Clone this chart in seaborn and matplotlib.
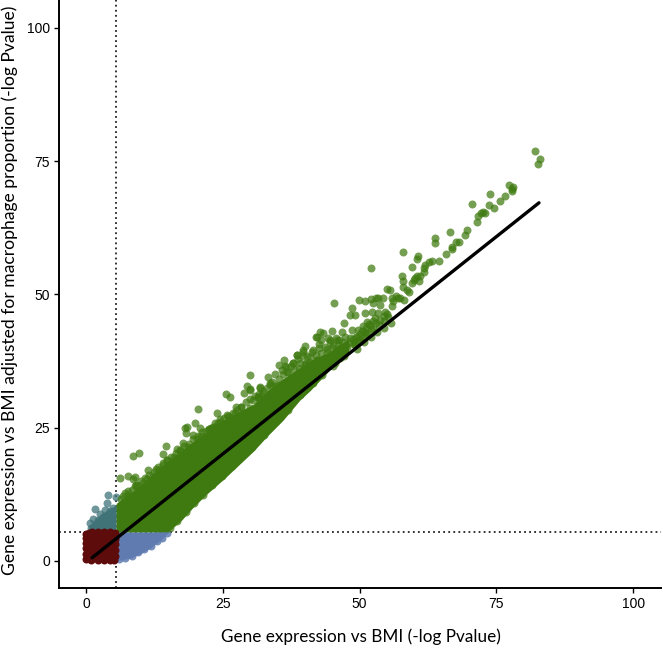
import matplotlib
matplotlib.use("Agg")
import matplotlib.pyplot as plt
import seaborn as sns
import pandas as pd

sns.set_theme(style="white")
plt.rcParams['font.family'] = ['Liberation Sans', 'DejaVu Sans']

THRESHOLD = 5.47
TICKS = [0, 25, 50, 75, 100]
X_LABEL = "Gene expression vs BMI (-log Pvalue)"
Y_LABEL = "Gene expression vs BMI adjusted for macrophage proportion (-log Pvalue)"

fit_x = [1.1, 82.8]
fit_y = [0.6, 67.2]

# dense mass outlines
green_band_x = [5.5, 8, 10.4, 13, 15, 17.5, 19.6, 22, 25, 27.5, 30.6, 33, 36, 39.1, 41, 44.6, 46, 48]
green_band_hi = [10.8, 12.7, 14.6, 17, 18.8, 20.8, 22.4, 24.2, 26.4, 27.8, 29.4, 31.8, 34.2, 36.3, 37.6, 39.3, 40.5, 41.5]
green_band_lo = [5.47, 5.47, 5.47, 5.47, 5.47, 7.7, 10.1, 12.5, 15.2, 17.6, 20.6, 23.3, 26.4, 30.2, 32, 35.9, 37, 39]
blue_band_x = [5.5, 8, 10, 11.7, 13.5, 15]
blue_band_hi = [5.47, 5.47, 5.47, 5.47, 5.47, 5.47]
blue_band_lo = [0.1, 0.5, 1.4, 2.4, 3.8, 5.3]
teal_band_x = [0.5, 1.5, 3, 5.5]
teal_band_hi = [6.6, 7.6, 9.0, 10.5]
teal_band_lo = [5.47, 5.47, 5.47, 5.47]
red_band_x = [0.1, 5.2]
red_band_hi = [5.4, 5.4]
red_band_lo = [0.1, 0.1]

green_x = [82.15, 82.9, 82.7, 77.3, 78.1, 77.8, 77.8, 73.9, 76.5, 75.6, 73.6, 70.5, 74.5, 73, 72.5, 72.2, 71.7, 71.4, 69.7, 69.2,
           66.6, 63.8, 63.8, 68.1, 67.7, 66.9, 66.9, 65.8, 64.5, 63.3, 62.7, 58, 60.7, 60.5, 61.9, 61.8, 61.7, 59.5, 57.8, 57.9,
           61.1, 60.5, 60.2, 59.9, 59.6, 60.8, 58, 58.6, 59.1, 56.7, 55.9, 57.4, 55.6,
           52.1, 55.1, 45.3, 49.9, 51, 52, 53, 54.2, 53.4, 52.5, 53.8, 56.2, 57.1, 58.1, 55.9, 48.6, 48.3, 49.2, 47.2, 51, 52.2,
           53.4, 54.7, 52.8, 51.3, 51.9, 50.7, 49.8, 51, 48.6, 42.7, 44.9, 46.7, 42.1, 42.9, 44.3, 45.7, 47.4, 48.3, 49.5, 50.1,
           48.9, 45.2, 43.7, 42.5, 40, 39.7, 38.5, 39.7, 41.3, 44, 46.1, 47.7, 36.2, 35.2, 37.9, 36.6, 39.1, 40.7, 42.2, 44.6,
           46.4, 30, 33.3, 31.8, 30, 35.2, 36.7, 37.9, 39.7, 41.6, 43.7, 45.5, 33.7, 31.5,
           29.5, 31.8, 29.96, 28.9, 25.6, 26.4, 31.5, 20.4, 27.5, 24, 25.7, 27.2, 24.5, 19.9, 18.5, 18.1, 18.3, 19.6, 22.5, 23.6,
           14.6, 17.8, 16.6, 14, 9.7, 8.5, 11.4, 12.7, 14.1, 6.2, 7.7, 8.9, 8.5, 10.5, 8.9, 7.6,
           6.4, 7.2, 9.4, 11.2, 12.2, 13.3, 14.8, 16.1, 17.2, 18.6, 20.3, 21.1, 22.9, 24.1, 26.2, 28.4, 30.6, 32.2, 34.5,
           15.4, 16.7, 18.2, 19.8, 21.3, 23.1, 24.8, 26.7, 28.6, 30.4, 32.5, 34.8, 36.9, 39.2, 41.4, 43.2, 45.1, 47.2,
           49.2, 50.3, 51.4, 52.5, 53.6, 54.4, 55.2, 49.6, 50.9, 52.1, 53.2, 54.5, 55.7]
green_y = [76.96, 75.5, 74.5, 70.6, 70.1, 69.8, 69.5, 68.8, 68.5, 67.6, 66.8, 66.9, 66.3, 65.3, 65.4, 65.2, 64.7, 63.6, 62.1, 61.1,
           61.8, 60.6, 59.7, 59.8, 59.8, 59, 58.6, 57.6, 56.3, 56.3, 56, 58, 57.3, 56.6, 55.6, 55, 54.3, 55.2, 53.4, 52.6,
           53.4, 53.4, 53.1, 52.8, 52.2, 52.6, 51.4, 50.8, 50.5, 49.8, 49.4, 49.3, 50.9,
           54.9, 51, 48.4, 49, 48.8, 49.2, 49.3, 49.3, 49.3, 48.4, 48, 48.7, 49.3, 49, 47.9, 47.4, 46.2, 46.2, 44.7, 46.5, 46.8,
           46.5, 46.7, 45.5, 44.9, 44.3, 44, 43.4, 43, 43.4, 42.9, 43.2, 43, 42, 41.5, 41.8, 41.8, 42.1, 41.8, 42.1, 41.2,
           40.8, 40.5, 40.1, 39.9, 40.3, 39.5, 38.7, 38.5, 39.3, 39, 39, 40.2, 37.7, 36.8, 37.1, 36.3, 37.1, 37.4, 37.7, 38,
           38, 34.9, 34.6, 32.5, 32.2, 34.1, 35.5, 34.6, 35.2, 35.9, 36.5, 37.1, 33, 30.8,
           32.8, 32.6, 32.1, 31.6, 31.3, 30.7, 30.8, 28.6, 28.8, 27.7, 27.4, 27.7, 26.6, 25.8, 25.2, 24.9, 24, 23.6, 24.7, 25.2,
           21.6, 22.1, 21.1, 20, 20.2, 19.7, 17.1, 17.2, 18, 15.5, 16, 15.7, 15.3, 14.6, 14, 12.4,
           11.6, 12.8, 14.3, 15.4, 15.9, 17.1, 18.9, 19.6, 20.7, 21.4, 22.9, 23.4, 24.6, 25.9, 27.1, 28.8, 30.2, 31.4, 32.8,
           6.1, 7.5, 9.2, 10.9, 12.4, 14.2, 16, 17.9, 19.8, 21.4, 23.6, 26.2, 28.3, 31.2, 33.4, 34.9, 36.6, 38.4,
           40.6, 41.8, 42.6, 43.5, 44.3, 45.1, 45.8, 39.8, 41, 42, 42.9, 43.8, 44.7]

# crowded circles on the upper rim of the green mass
green_rim_x = [6.8, 7.6, 8.4, 9.2, 10, 10.8, 11.6, 12.4, 13.2, 14, 14.8, 15.6, 16.4, 17.2, 18, 18.8, 19.6, 20.4, 21.2, 22, 22.8,
               23.6, 24.4, 25.2, 26, 26.8, 27.6, 28.4, 29.2, 30, 30.8, 31.6, 32.4, 33, 34, 35, 36, 37, 38, 39, 40, 41, 42, 43, 44,
               45, 46, 47, 34.5, 35.8, 37.4, 38.8, 40.4, 42.6, 44.6, 46.2, 47.5, 48.2, 48.8, 49.4, 50, 50.5, 51.2, 51.8, 52.5,
               49, 50, 51, 52, 53, 53.8, 54.5, 55,
               33.6, 36.4, 38.5, 39.7, 42.2, 43.4, 44.6, 45.8, 41.5, 37.9, 40.3, 42.2, 31.8, 30, 28.1, 22.4, 23.3, 20.8]
green_rim_y = [12.2, 13.2, 13.3, 14.2, 15, 15.6, 16.2, 16.6, 17.6, 18.4, 19, 19.5, 20.2, 20.8, 21.6, 22, 22.8, 23.4, 24.2, 24.4, 25,
               25.8, 26, 26.8, 27.2, 27.8, 28.4, 28.8, 29.8, 30.4, 31, 31.4, 31.8, 32.5, 33.5, 33, 35, 35.4, 36, 36.2, 37, 38.2, 38.6, 39, 39.8,
               40, 40.5, 41, 35, 35.8, 36.6, 37.9, 38.4, 40.8, 41, 41.5, 40.5, 41, 41.6, 42, 42.6, 43.2, 43.8, 44.5, 45,
               41, 41.5, 42.5, 43.5, 44.6, 45.2, 46, 46.3,
               33.3, 36.5, 38.7, 39.3, 42, 42.7, 41.5, 41.5, 39.5, 37.1, 37.1, 37.7, 30.2, 28.7, 27.4, 24.7, 25.2, 25]

teal_x = [5.4, 4, 1.7, 3.9, 2.6, 3.5, 1.2, 0.7, 5, 2.2, 3.1, 4.4, 4.9, 1.6, 0.9]
teal_y = [12, 12.3, 9.7, 10.8, 8.8, 9.5, 7.8, 7.1, 9.9, 7.6, 8.2, 9.3, 8.4, 6.6, 6.1]

blue_x = [6.1, 7.2, 8.4, 9.5, 10.6, 11.8, 12.9, 13.8, 14.8, 6.5, 7.7, 9.1, 10.3, 11.5, 12.6, 13.7, 6, 7, 8.3, 9.6, 5.8, 6.7]
blue_y = [0.4, 0.6, 1, 1.6, 2.3, 2.9, 3.8, 4.4, 5.2, 1.5, 1.9, 2.6, 3.4, 4, 4.7, 5.1, 2.7, 3.1, 3.7, 4.5, 4.2, 4.9]

red_x = [0, 0, 0, 0, 0, 0, 1.1, 2.2, 3.3, 4.4, 5.3, 5.3, 5.3, 5.3, 5.3, 5.2, 1.0, 2.1, 3.2, 4.3, 0.5, 2.7, 3.8, 1.6, 4.8]
red_y = [0.3, 1.3, 2.4, 3.4, 4.4, 5.1, 5.4, 5.5, 5.4, 5.5, 5.3, 4.2, 3.1, 2, 1, 0.2, 0.1, 0.2, 0.1, 0.2, 5.2, 2.7, 1.5, 3.8, 4.1]

BAND_COLOURS = {"teal": "#3f7378", "blue": "#5f7bb0", "green": "#3f7a10", "red": "#5e0b0b"}
POINT_ALPHA = {"teal": 0.75, "blue": 0.85, "green": 0.72, "red": 1.0}

fig = plt.figure(figsize=(6.63, 6.48), dpi=100, facecolor="white")
ax = fig.add_axes([59 / 663, 1 - 588 / 648, (661 - 59) / 663, 588 / 648])

groups = [
    ("teal", teal_x, teal_y, teal_band_x, teal_band_lo, teal_band_hi),
    ("blue", blue_x, blue_y, blue_band_x, blue_band_lo, blue_band_hi),
    ("green", green_x + green_rim_x, green_y + green_rim_y, green_band_x, green_band_lo, green_band_hi),
    ("red", red_x, red_y, red_band_x, red_band_lo, red_band_hi),
]
for i, (name, xs, ys, bx, lo, hi) in enumerate(groups):
    colour = BAND_COLOURS[name]
    ax.fill_between(bx, lo, hi, color=colour, linewidth=0, zorder=2 + i)
    sns.scatterplot(data=pd.DataFrame({"x": xs, "y": ys}), x="x", y="y", ax=ax, color=colour,
                    alpha=POINT_ALPHA[name], s=33, linewidth=0, legend=False, zorder=2.5 + i)

ax.axvline(THRESHOLD, color="#222222", linestyle=(0, (1, 1.8)), linewidth=1.3, zorder=1)
ax.axhline(THRESHOLD, color="#222222", linestyle=(0, (1, 1.8)), linewidth=1.3, zorder=1)
sns.lineplot(x=fit_x, y=fit_y, ax=ax, color="black", linewidth=2.4, zorder=9)

ax.set_xlim(-4.94, 105.1)
ax.set_ylim(-5.07, 105.25)
ax.set_xticks(TICKS)
ax.set_yticks(TICKS)
ax.tick_params(axis="both", length=3.5, width=1, color="black", labelcolor="black", labelsize=10, pad=3,
               bottom=True, left=True)
sns.despine(ax=ax)
for side in ("left", "bottom"):
    ax.spines[side].set_color("black")
    ax.spines[side].set_linewidth(1.4)

ax.set_xlabel("")
ax.set_ylabel("")
fig.text(361 / 663, 1 - 637 / 648, X_LABEL, ha="center", va="center", fontsize=12.35, family="Lato", color="black")
fig.text(10 / 663, 1 - 290 / 648, Y_LABEL, ha="center", va="center", rotation=90, fontsize=12.65, family="Lato", color="black")

fig.savefig("out.png", dpi=100, facecolor="white")
